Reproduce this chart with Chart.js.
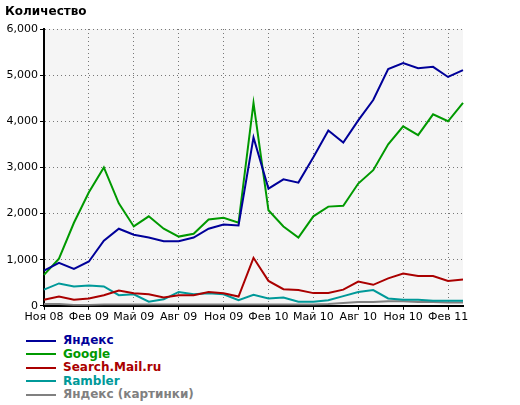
<!DOCTYPE html>
<html>
<head>
<meta charset="utf-8">
<script src="https://cdn.jsdelivr.net/npm/chart.js@4"></script>
<style>
  body { margin: 0; background: #fff; font-family: "DejaVu Sans", Verdana, sans-serif; }
  #wrap { position: relative; width: 520px; height: 405px; }
  #title { position: absolute; left: 5px; top: 4px; font-weight: bold; font-size: 12px; color: #000; }
  #chart { position: absolute; left: 0; top: 0; }
  #legend { position: absolute; left: 26px; top: 334px; font-size: 12px; font-weight: bold; line-height: 13.5px; }
  #legend div span.sw { display: inline-block; width: 30px; height: 2px; vertical-align: middle; margin-right: 7px; }
</style>
</head>
<body>
<div id="wrap">
  <canvas id="chart" width="520" height="325"></canvas>
  <div id="title">Количество</div>
  <div id="legend"></div>
</div>
<script>
// ======================================================================
// Daten
// ======================================================================
const months = ['Ноя 08','Дек 08','Янв 09','Фев 09','Мар 09','Апр 09','Май 09','Июн 09','Июл 09','Авг 09',
  'Сен 09','Окт 09','Ноя 09','Дек 09','Янв 10','Фев 10','Мар 10','Апр 10','Май 10','Июн 10','Июл 10',
  'Авг 10','Сен 10','Окт 10','Ноя 10','Дек 10','Янв 11','Фев 11','Мар 11'];

const yandex = [760,930,800,960,1410,1670,1540,1480,1400,1400,1480,1670,1760,1740,3650,2540,2740,2670,3220,3800,3540,4020,4460,5130,5260,5150,5180,4960,5110];
const google = [670,1020,1800,2460,3000,2220,1720,1940,1670,1500,1560,1870,1910,1800,4400,2070,1720,1480,1940,2150,2170,2650,2940,3500,3890,3700,4150,4000,4400];
const mailru = [130,200,130,160,230,330,270,250,180,230,230,300,270,200,1040,540,360,340,275,280,350,525,455,595,700,645,645,540,570];
const rambler = [350,485,420,440,420,230,250,90,140,300,250,270,250,120,240,160,180,90,90,120,210,300,340,160,130,130,110,110,110];
const yandexImg = [40,40,20,20,30,30,30,30,30,30,30,30,30,30,30,30,30,30,30,40,60,80,80,100,100,80,80,70,70];

const seriesNames = ['Яндекс','Google','Search.Mail.ru','Rambler','Яндекс (картинки)'];
const seriesColors = ['#000099','#009900','#aa0000','#009999','#808080'];
const seriesData = [yandex, google, mailru, rambler, yandexImg];

// ======================================================================
// Hintergrund der Zeichenfläche
// ======================================================================
const plotBg = {
  id: 'plotBg',
  beforeDraw(chart) {
    const a = chart.chartArea, c = chart.ctx;
    c.save();
    c.fillStyle = '#f5f5f5';
    c.fillRect(a.left, a.top, a.right - a.left, a.bottom - a.top);
    c.restore();
  }
};

const datasets = seriesData.map((d, i) => ({
  label: seriesNames[i],
  data: d,
  borderColor: seriesColors[i],
  backgroundColor: seriesColors[i],
  borderWidth: 2,
  pointRadius: 0,
  tension: 0,
  fill: false,
  order: i
}));

new Chart(document.getElementById('chart'), {
  type: 'line',
  data: { labels: months, datasets },
  plugins: [plotBg],
  options: {
    responsive: false,
    animation: false,
    layout: { padding: { top: 29, right: 57, left: 0, bottom: 0 } },
    plugins: { legend: { display: false }, tooltip: { enabled: false } },
    scales: {
      x: {
        offset: false,
        border: { color: '#000', width: 2, dash: [1, 3] },
        grid: {
          color: ctx => (ctx.index % 3 === 0 ? '#777' : 'transparent'),
          tickColor: ctx => (ctx.index % 3 === 0 ? '#000' : 'transparent'),
          tickLength: 4,
          lineWidth: 1
        },
        ticks: {
          autoSkip: false,
          maxRotation: 0,
          color: '#000',
          font: { family: 'DejaVu Sans', size: 11 },
          padding: 1,
          callback: (v, i) => (i % 3 === 0 ? months[i] : '')
        }
      },
      y: {
        min: 0, max: 6000,
        border: { color: '#000', width: 2, dash: [1, 3] },
        afterFit: s => { s.width = 44; },
        grid: { color: '#777', tickColor: '#000', tickLength: 4 },
        ticks: {
          stepSize: 1000,
          color: '#000',
          font: { family: 'DejaVu Sans', size: 11 },
          padding: 2,
          callback: v => v.toLocaleString('en-US')
        }
      }
    }
  }
});

// Legende
const leg = document.getElementById('legend');
seriesNames.forEach((n, i) => {
  const row = document.createElement('div');
  row.innerHTML = '<span class="sw" style="background:' + seriesColors[i] + '"></span><span style="color:' + seriesColors[i] + '">' + n + '</span>';
  leg.appendChild(row);
});
</script>
</body>
</html>
